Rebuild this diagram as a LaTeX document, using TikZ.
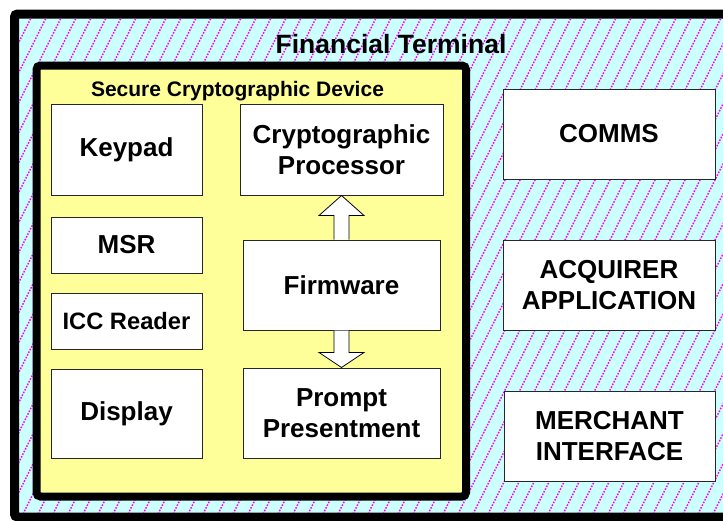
\documentclass[tikz,border=0pt]{standalone}
\usepackage{fontspec}
\setmainfont{Liberation Sans}
\usetikzlibrary{calc}
\definecolor{termcyan}{HTML}{CCFFFF}
\definecolor{devyellow}{HTML}{FFFF99}
\definecolor{hatchmag}{HTML}{FF00FF}
\begin{document}
\begin{tikzpicture}[x=1pt,y=-1pt,
  blk/.style={draw=black!85, line width=1pt, fill=white, inner sep=0pt, align=center,
    font=\bfseries\fontsize{26}{31}\selectfont},
  blocarrow/.style={draw=black, fill=white, line width=0.8pt, line join=miter},
  hatchline/.style={hatchmag, line width=1.5pt, dash pattern=on 1.6pt off 1.4pt}]
\useasboundingbox (0,0) rectangle (723,520);
\clip (0,0) rectangle (723,520);
% outer terminal frame
\draw[line width=9pt, fill=termcyan, rounded corners=3pt] (14.5,14) rectangle (745,517);
\begin{scope}
  \clip (19,18.5) rectangle (740,512.5);
  \foreach \hx in {-300,-285,...,735}
    \draw[hatchline] (\hx,530) -- ++(270,-540);
\end{scope}
\node[anchor=base, inner sep=0pt, font=\bfseries\fontsize{26.5}{31}\selectfont] (ft) at (391,53) {Financial Terminal};
% secure device
\draw[line width=8pt, fill=devyellow, rounded corners=4pt] (36.5,65.5) rectangle (466,496.5);
\node[anchor=base, inner sep=0pt, font=\bfseries\fontsize{21}{25}\selectfont] (scd) at (237.5,96) {Secure Cryptographic Device};
% left column
\node[blk, minimum width=151pt, minimum height=91pt] (keypad) at (126.5,149.5) {Keypad};
\node[blk, minimum width=151pt, minimum height=56pt] (msr) at (126.5,245) {MSR};
\node[blk, minimum width=151pt, minimum height=56pt, font=\bfseries\fontsize{23.7}{28}\selectfont] (icc) at (126.5,321) {ICC Reader};
\node[blk, minimum width=151pt, minimum height=89pt] (display) at (126.5,413.5) {Display};
% middle column
\node[blk, minimum width=203pt, minimum height=91pt] (crypto) at (341.5,149.5) {Cryptographic\\Processor};
\node[blk, minimum width=197pt, minimum height=90pt] (fw) at (341.5,285) {Firmware};
\node[blk, minimum width=197pt, minimum height=90pt] (prompt) at (341.5,413) {Prompt\\Presentment};
% right column
\node[blk, minimum width=212pt, minimum height=90pt] (comms) at (609,134) {COMMS};
\node[blk, minimum width=212pt, minimum height=90pt] (acq) at (609,285) {ACQUIRER\\APPLICATION};
\node[blk, minimum width=211pt, minimum height=90pt] (merch) at (609.5,436) {MERCHANT\\INTERFACE};
% block arrows
\draw[blocarrow] ($(fw.north)+(-7.5,0)$) -- ($(crypto.south)+(-7.5,20)$) -- ($(crypto.south)+(-22.5,20)$)
  -- (crypto.south) -- ($(crypto.south)+(22.5,20)$) -- ($(crypto.south)+(7.5,20)$) -- ($(fw.north)+(7.5,0)$);
\draw[blocarrow] ($(fw.south)+(-7.5,0)$) -- ($(prompt.north)+(-7.5,-15)$) -- ($(prompt.north)+(-22.5,-15)$)
  -- (prompt.north) -- ($(prompt.north)+(22.5,-15)$) -- ($(prompt.north)+(7.5,-15)$) -- ($(fw.south)+(7.5,0)$);
\end{tikzpicture}
\end{document}
